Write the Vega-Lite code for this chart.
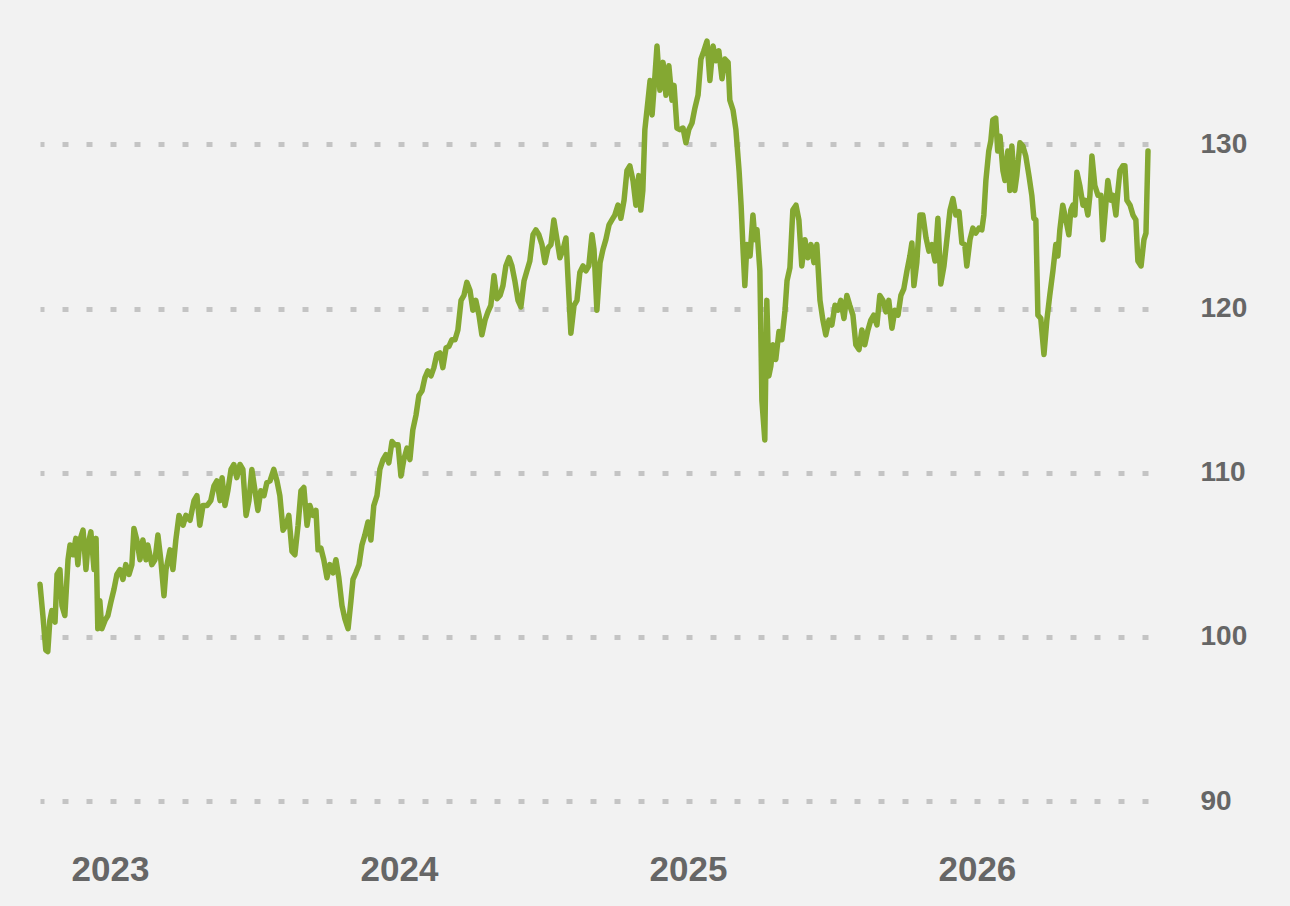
{
  "$schema": "https://vega.github.io/schema/vega-lite/v6.json",
  "autosize": {"type": "none"},
  "padding": {"left": 40, "top": 0, "right": 142, "bottom": 105},
  "width": 1108,
  "height": 801,
  "background": "#f2f2f2",
  "config": {"view": {"stroke": null}},
  "data": {
    "values": [
      {"year": 2022.758, "value": 103.2}, {"year": 2022.768, "value": 101.3}, {"year": 2022.778, "value": 99.2}, {"year": 2022.785, "value": 99.1},
      {"year": 2022.792, "value": 101.0}, {"year": 2022.799, "value": 101.6}, {"year": 2022.81, "value": 100.9}, {"year": 2022.817, "value": 103.8},
      {"year": 2022.827, "value": 104.1}, {"year": 2022.834, "value": 101.9}, {"year": 2022.844, "value": 101.3}, {"year": 2022.855, "value": 104.7},
      {"year": 2022.862, "value": 105.6}, {"year": 2022.872, "value": 105.0}, {"year": 2022.882, "value": 106.0}, {"year": 2022.889, "value": 104.4},
      {"year": 2022.896, "value": 105.9}, {"year": 2022.907, "value": 106.5}, {"year": 2022.917, "value": 104.1}, {"year": 2022.924, "value": 105.6},
      {"year": 2022.934, "value": 106.4}, {"year": 2022.945, "value": 104.1}, {"year": 2022.952, "value": 106.0}, {"year": 2022.958, "value": 100.5},
      {"year": 2022.965, "value": 102.2}, {"year": 2022.972, "value": 100.5}, {"year": 2022.983, "value": 101.0}, {"year": 2022.993, "value": 101.3},
      {"year": 2023.003, "value": 102.1}, {"year": 2023.014, "value": 102.9}, {"year": 2023.024, "value": 103.8}, {"year": 2023.035, "value": 104.1},
      {"year": 2023.045, "value": 103.5}, {"year": 2023.055, "value": 104.4}, {"year": 2023.066, "value": 103.8}, {"year": 2023.076, "value": 104.4},
      {"year": 2023.083, "value": 106.6}, {"year": 2023.093, "value": 105.9}, {"year": 2023.104, "value": 104.7}, {"year": 2023.114, "value": 105.9},
      {"year": 2023.125, "value": 104.7}, {"year": 2023.131, "value": 105.6}, {"year": 2023.145, "value": 104.4}, {"year": 2023.156, "value": 104.7},
      {"year": 2023.166, "value": 106.2}, {"year": 2023.176, "value": 104.7}, {"year": 2023.187, "value": 102.5}, {"year": 2023.194, "value": 104.1},
      {"year": 2023.208, "value": 105.3}, {"year": 2023.218, "value": 104.1}, {"year": 2023.228, "value": 105.9}, {"year": 2023.239, "value": 107.4},
      {"year": 2023.253, "value": 106.8}, {"year": 2023.263, "value": 107.4}, {"year": 2023.277, "value": 107.1}, {"year": 2023.291, "value": 108.3},
      {"year": 2023.301, "value": 108.6}, {"year": 2023.311, "value": 106.8}, {"year": 2023.322, "value": 108.0}, {"year": 2023.336, "value": 108.0},
      {"year": 2023.349, "value": 108.3}, {"year": 2023.36, "value": 109.2}, {"year": 2023.37, "value": 109.5}, {"year": 2023.381, "value": 108.3},
      {"year": 2023.388, "value": 109.7}, {"year": 2023.398, "value": 108.0}, {"year": 2023.408, "value": 108.9}, {"year": 2023.419, "value": 110.2},
      {"year": 2023.429, "value": 110.5}, {"year": 2023.439, "value": 109.7}, {"year": 2023.45, "value": 110.5}, {"year": 2023.46, "value": 110.2},
      {"year": 2023.471, "value": 107.4}, {"year": 2023.481, "value": 108.3}, {"year": 2023.491, "value": 110.2}, {"year": 2023.502, "value": 108.9},
      {"year": 2023.512, "value": 107.7}, {"year": 2023.522, "value": 108.9}, {"year": 2023.533, "value": 108.6}, {"year": 2023.543, "value": 109.4},
      {"year": 2023.554, "value": 109.5}, {"year": 2023.567, "value": 110.2}, {"year": 2023.578, "value": 109.5}, {"year": 2023.588, "value": 108.6},
      {"year": 2023.599, "value": 106.5}, {"year": 2023.609, "value": 106.8}, {"year": 2023.619, "value": 107.4}, {"year": 2023.63, "value": 105.2},
      {"year": 2023.64, "value": 105.0}, {"year": 2023.651, "value": 106.8}, {"year": 2023.661, "value": 108.9}, {"year": 2023.671, "value": 109.1},
      {"year": 2023.682, "value": 106.8}, {"year": 2023.692, "value": 108.0}, {"year": 2023.703, "value": 107.4}, {"year": 2023.713, "value": 107.7},
      {"year": 2023.72, "value": 105.3}, {"year": 2023.73, "value": 105.4}, {"year": 2023.74, "value": 104.7}, {"year": 2023.751, "value": 103.6},
      {"year": 2023.761, "value": 104.4}, {"year": 2023.772, "value": 103.9}, {"year": 2023.782, "value": 104.7}, {"year": 2023.792, "value": 103.6},
      {"year": 2023.803, "value": 101.9}, {"year": 2023.813, "value": 101.1}, {"year": 2023.824, "value": 100.5}, {"year": 2023.834, "value": 102.2},
      {"year": 2023.841, "value": 103.5}, {"year": 2023.851, "value": 103.9}, {"year": 2023.862, "value": 104.4}, {"year": 2023.872, "value": 105.6},
      {"year": 2023.882, "value": 106.2}, {"year": 2023.893, "value": 107.0}, {"year": 2023.903, "value": 105.9}, {"year": 2023.913, "value": 108.0},
      {"year": 2023.924, "value": 108.6}, {"year": 2023.934, "value": 110.2}, {"year": 2023.945, "value": 110.8}, {"year": 2023.955, "value": 111.1},
      {"year": 2023.965, "value": 110.6}, {"year": 2023.976, "value": 111.9}, {"year": 2023.986, "value": 111.7}, {"year": 2023.997, "value": 111.7},
      {"year": 2024.007, "value": 109.8}, {"year": 2024.017, "value": 110.8}, {"year": 2024.028, "value": 111.5}, {"year": 2024.038, "value": 110.8},
      {"year": 2024.048, "value": 112.6}, {"year": 2024.059, "value": 113.5}, {"year": 2024.069, "value": 114.7}, {"year": 2024.08, "value": 115.0},
      {"year": 2024.09, "value": 115.8}, {"year": 2024.1, "value": 116.2}, {"year": 2024.111, "value": 115.9}, {"year": 2024.121, "value": 116.4},
      {"year": 2024.131, "value": 117.2}, {"year": 2024.142, "value": 117.3}, {"year": 2024.152, "value": 116.4}, {"year": 2024.163, "value": 117.6},
      {"year": 2024.173, "value": 117.7}, {"year": 2024.183, "value": 118.1}, {"year": 2024.194, "value": 118.1}, {"year": 2024.204, "value": 118.7},
      {"year": 2024.215, "value": 120.5}, {"year": 2024.225, "value": 120.8}, {"year": 2024.235, "value": 121.6}, {"year": 2024.246, "value": 121.1},
      {"year": 2024.256, "value": 119.9}, {"year": 2024.266, "value": 120.5}, {"year": 2024.277, "value": 119.6}, {"year": 2024.287, "value": 118.4},
      {"year": 2024.298, "value": 119.3}, {"year": 2024.308, "value": 119.8}, {"year": 2024.318, "value": 120.2}, {"year": 2024.329, "value": 122.0},
      {"year": 2024.339, "value": 120.6}, {"year": 2024.35, "value": 120.8}, {"year": 2024.36, "value": 121.4}, {"year": 2024.37, "value": 122.6},
      {"year": 2024.381, "value": 123.1}, {"year": 2024.391, "value": 122.6}, {"year": 2024.401, "value": 121.7}, {"year": 2024.412, "value": 120.5},
      {"year": 2024.422, "value": 120.1}, {"year": 2024.433, "value": 121.7}, {"year": 2024.443, "value": 122.3}, {"year": 2024.453, "value": 122.9},
      {"year": 2024.464, "value": 124.5}, {"year": 2024.474, "value": 124.8}, {"year": 2024.484, "value": 124.5}, {"year": 2024.495, "value": 123.9},
      {"year": 2024.505, "value": 122.8}, {"year": 2024.516, "value": 123.7}, {"year": 2024.526, "value": 123.9}, {"year": 2024.536, "value": 125.4},
      {"year": 2024.547, "value": 124.2}, {"year": 2024.557, "value": 123.1}, {"year": 2024.568, "value": 123.6}, {"year": 2024.578, "value": 124.3},
      {"year": 2024.588, "value": 120.8}, {"year": 2024.595, "value": 118.5}, {"year": 2024.606, "value": 120.2}, {"year": 2024.616, "value": 120.5},
      {"year": 2024.626, "value": 122.2}, {"year": 2024.637, "value": 122.6}, {"year": 2024.647, "value": 122.3}, {"year": 2024.657, "value": 122.6},
      {"year": 2024.668, "value": 124.5}, {"year": 2024.675, "value": 123.6}, {"year": 2024.685, "value": 119.9}, {"year": 2024.696, "value": 122.8},
      {"year": 2024.706, "value": 123.6}, {"year": 2024.716, "value": 124.2}, {"year": 2024.727, "value": 125.1}, {"year": 2024.737, "value": 125.4},
      {"year": 2024.747, "value": 125.7}, {"year": 2024.758, "value": 126.3}, {"year": 2024.768, "value": 125.5}, {"year": 2024.779, "value": 126.6},
      {"year": 2024.789, "value": 128.4}, {"year": 2024.799, "value": 128.7}, {"year": 2024.81, "value": 127.8}, {"year": 2024.82, "value": 126.3},
      {"year": 2024.83, "value": 128.1}, {"year": 2024.837, "value": 126.0}, {"year": 2024.844, "value": 127.2}, {"year": 2024.851, "value": 130.9},
      {"year": 2024.862, "value": 132.7}, {"year": 2024.869, "value": 133.9}, {"year": 2024.876, "value": 131.8}, {"year": 2024.886, "value": 134.2},
      {"year": 2024.893, "value": 136.0}, {"year": 2024.903, "value": 133.3}, {"year": 2024.914, "value": 135.0}, {"year": 2024.924, "value": 133.0},
      {"year": 2024.934, "value": 134.8}, {"year": 2024.945, "value": 132.7}, {"year": 2024.952, "value": 133.6}, {"year": 2024.962, "value": 131.0},
      {"year": 2024.972, "value": 130.9}, {"year": 2024.983, "value": 131.0}, {"year": 2024.993, "value": 130.1}, {"year": 2025.003, "value": 130.9},
      {"year": 2025.014, "value": 131.3}, {"year": 2025.024, "value": 132.2}, {"year": 2025.035, "value": 133.0}, {"year": 2025.045, "value": 135.2},
      {"year": 2025.055, "value": 135.7}, {"year": 2025.066, "value": 136.3}, {"year": 2025.076, "value": 133.9}, {"year": 2025.087, "value": 136.0},
      {"year": 2025.097, "value": 135.1}, {"year": 2025.107, "value": 135.7}, {"year": 2025.118, "value": 134.0}, {"year": 2025.128, "value": 135.2},
      {"year": 2025.139, "value": 135.0}, {"year": 2025.145, "value": 132.7}, {"year": 2025.156, "value": 132.1}, {"year": 2025.166, "value": 130.9},
      {"year": 2025.177, "value": 128.4}, {"year": 2025.184, "value": 126.3}, {"year": 2025.191, "value": 123.5}, {"year": 2025.197, "value": 121.4},
      {"year": 2025.204, "value": 123.9}, {"year": 2025.215, "value": 123.2}, {"year": 2025.225, "value": 125.7}, {"year": 2025.232, "value": 124.2},
      {"year": 2025.239, "value": 124.8}, {"year": 2025.249, "value": 122.3}, {"year": 2025.256, "value": 114.4}, {"year": 2025.266, "value": 112.0},
      {"year": 2025.273, "value": 120.5}, {"year": 2025.28, "value": 115.9}, {"year": 2025.287, "value": 116.5}, {"year": 2025.294, "value": 117.8},
      {"year": 2025.304, "value": 116.9}, {"year": 2025.315, "value": 118.6}, {"year": 2025.325, "value": 118.1}, {"year": 2025.336, "value": 119.9},
      {"year": 2025.343, "value": 121.7}, {"year": 2025.353, "value": 122.5}, {"year": 2025.363, "value": 126.0}, {"year": 2025.374, "value": 126.3},
      {"year": 2025.384, "value": 125.4}, {"year": 2025.394, "value": 122.6}, {"year": 2025.405, "value": 124.2}, {"year": 2025.415, "value": 123.1},
      {"year": 2025.426, "value": 123.9}, {"year": 2025.436, "value": 122.8}, {"year": 2025.446, "value": 123.9}, {"year": 2025.457, "value": 120.5},
      {"year": 2025.467, "value": 119.3}, {"year": 2025.477, "value": 118.4}, {"year": 2025.488, "value": 119.3}, {"year": 2025.498, "value": 119.0},
      {"year": 2025.509, "value": 120.2}, {"year": 2025.519, "value": 119.9}, {"year": 2025.529, "value": 120.5}, {"year": 2025.54, "value": 119.4},
      {"year": 2025.55, "value": 120.8}, {"year": 2025.56, "value": 120.2}, {"year": 2025.571, "value": 119.6}, {"year": 2025.581, "value": 117.8},
      {"year": 2025.592, "value": 117.5}, {"year": 2025.602, "value": 118.7}, {"year": 2025.612, "value": 117.8}, {"year": 2025.623, "value": 118.7},
      {"year": 2025.633, "value": 119.3}, {"year": 2025.643, "value": 119.6}, {"year": 2025.654, "value": 119.0}, {"year": 2025.664, "value": 120.8},
      {"year": 2025.675, "value": 120.5}, {"year": 2025.685, "value": 119.8}, {"year": 2025.695, "value": 120.5}, {"year": 2025.706, "value": 118.8},
      {"year": 2025.716, "value": 119.9}, {"year": 2025.727, "value": 119.6}, {"year": 2025.737, "value": 120.8}, {"year": 2025.747, "value": 121.2},
      {"year": 2025.758, "value": 122.3}, {"year": 2025.768, "value": 123.2}, {"year": 2025.775, "value": 124.0}, {"year": 2025.782, "value": 121.4},
      {"year": 2025.792, "value": 122.8}, {"year": 2025.803, "value": 125.7}, {"year": 2025.813, "value": 125.7}, {"year": 2025.824, "value": 124.3},
      {"year": 2025.834, "value": 123.5}, {"year": 2025.844, "value": 123.9}, {"year": 2025.855, "value": 122.9}, {"year": 2025.865, "value": 125.5},
      {"year": 2025.875, "value": 121.5}, {"year": 2025.886, "value": 122.6}, {"year": 2025.896, "value": 124.2}, {"year": 2025.907, "value": 126.0},
      {"year": 2025.917, "value": 126.7}, {"year": 2025.927, "value": 125.7}, {"year": 2025.938, "value": 125.9}, {"year": 2025.948, "value": 124.0},
      {"year": 2025.958, "value": 123.9}, {"year": 2025.965, "value": 122.6}, {"year": 2025.976, "value": 124.2}, {"year": 2025.986, "value": 124.9},
      {"year": 2025.996, "value": 124.6}, {"year": 2026.007, "value": 124.9}, {"year": 2026.017, "value": 124.8}, {"year": 2026.024, "value": 125.7},
      {"year": 2026.031, "value": 127.8}, {"year": 2026.041, "value": 129.6}, {"year": 2026.048, "value": 130.2}, {"year": 2026.055, "value": 131.5},
      {"year": 2026.065, "value": 131.6}, {"year": 2026.072, "value": 129.6}, {"year": 2026.08, "value": 130.5}, {"year": 2026.09, "value": 128.4},
      {"year": 2026.097, "value": 127.8}, {"year": 2026.107, "value": 129.6}, {"year": 2026.114, "value": 127.2}, {"year": 2026.121, "value": 129.9},
      {"year": 2026.131, "value": 127.2}, {"year": 2026.138, "value": 128.1}, {"year": 2026.149, "value": 130.1}, {"year": 2026.159, "value": 129.9},
      {"year": 2026.169, "value": 129.3}, {"year": 2026.18, "value": 128.1}, {"year": 2026.19, "value": 126.9}, {"year": 2026.197, "value": 125.5},
      {"year": 2026.204, "value": 125.4}, {"year": 2026.211, "value": 119.6}, {"year": 2026.221, "value": 119.4}, {"year": 2026.232, "value": 117.2},
      {"year": 2026.242, "value": 119.3}, {"year": 2026.252, "value": 120.8}, {"year": 2026.263, "value": 122.3}, {"year": 2026.273, "value": 123.9},
      {"year": 2026.28, "value": 123.2}, {"year": 2026.287, "value": 124.8}, {"year": 2026.297, "value": 126.3}, {"year": 2026.308, "value": 125.4},
      {"year": 2026.318, "value": 124.5}, {"year": 2026.325, "value": 126.0}, {"year": 2026.332, "value": 126.3}, {"year": 2026.339, "value": 125.7},
      {"year": 2026.346, "value": 128.3}, {"year": 2026.356, "value": 127.5}, {"year": 2026.367, "value": 126.3}, {"year": 2026.374, "value": 126.6},
      {"year": 2026.384, "value": 125.7}, {"year": 2026.391, "value": 126.9}, {"year": 2026.398, "value": 129.3}, {"year": 2026.408, "value": 127.5},
      {"year": 2026.419, "value": 126.9}, {"year": 2026.429, "value": 126.9}, {"year": 2026.436, "value": 124.2}, {"year": 2026.443, "value": 125.7},
      {"year": 2026.453, "value": 127.8}, {"year": 2026.464, "value": 126.6}, {"year": 2026.471, "value": 126.9}, {"year": 2026.481, "value": 125.7},
      {"year": 2026.488, "value": 127.2}, {"year": 2026.495, "value": 128.4}, {"year": 2026.505, "value": 128.7}, {"year": 2026.512, "value": 128.7},
      {"year": 2026.519, "value": 126.6}, {"year": 2026.53, "value": 126.3}, {"year": 2026.54, "value": 125.7}, {"year": 2026.55, "value": 125.4},
      {"year": 2026.557, "value": 122.9}, {"year": 2026.568, "value": 122.6}, {"year": 2026.578, "value": 124.2}, {"year": 2026.585, "value": 124.6},
      {"year": 2026.592, "value": 129.6}
    ]
  },
  "mark": {"type": "line", "color": "#84a832", "strokeWidth": 5.5, "strokeJoin": "round", "strokeCap": "round"},
  "encoding": {
    "x": {
      "field": "year",
      "type": "quantitative",
      "scale": {"domain": [2022.758, 2026.592], "nice": false, "zero": false},
      "axis": {
        "title": null,
        "values": [2023, 2024, 2025, 2026],
        "format": "d",
        "grid": false,
        "domain": false,
        "ticks": false,
        "labelFont": "Liberation Sans",
        "labelFontSize": 35,
        "labelFontWeight": "bold",
        "labelColor": "#666666",
        "labelPadding": 51
      }
    },
    "y": {
      "field": "value",
      "type": "quantitative",
      "scale": {"domain": [90, 138.8], "nice": false, "zero": false},
      "axis": {
        "orient": "right",
        "title": null,
        "values": [90, 100, 110, 120, 130],
        "domain": false,
        "ticks": false,
        "grid": true,
        "gridColor": "#c4c4c4",
        "gridWidth": 5,
        "gridDash": [6, 18],
        "labelFont": "Liberation Sans",
        "labelFontSize": 28,
        "labelFontWeight": "bold",
        "labelColor": "#666666",
        "labelAlign": "left",
        "labelPadding": 52
      }
    }
  }
}
